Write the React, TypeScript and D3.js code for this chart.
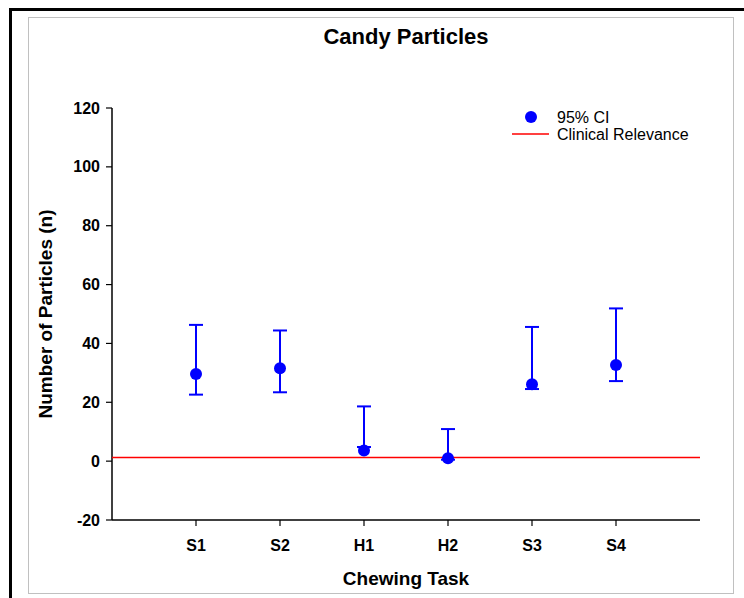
import * as d3 from "d3";

// データ
const TASKS = ["S1", "S2", "H1", "H2", "S3", "S4"];
const MEANS = [29.6, 31.6, 3.6, 1.0, 26.1, 32.7];
const UPPER = [46.3, 44.4, 18.6, 10.9, 45.6, 51.9];
const LOWER = [22.6, 23.4, 4.8, 0.5, 24.5, 27.2];
const Y_TICKS = [-20, 0, 20, 40, 60, 80, 100, 120];
const CLINICAL = 1.2;

const W = 744;
const H = 598;
const FONT = "'Liberation Sans', Arial, sans-serif";
const BLUE = "#0000ff";
const RED = "#ff0000";

export default function App() {
  const x = d3.scaleLinear().domain([0, TASKS.length + 1]).range([112, 700]);
  const y = d3.scaleLinear().domain([-20, 120]).range([520, 108]);
  const capW = 7;

  return (
    <svg
      width={W}
      height={H}
      viewBox={`0 0 ${W} ${H}`}
      style={{ position: "absolute", left: 0, top: 0, background: "#fff" }}
      fontFamily={FONT}
    >
      {/* 外枠 */}
      <rect x={10.5} y={9.5} width={W + 20} height={H + 20} fill="none" stroke="#000" strokeWidth={3} />
      <rect x={28.5} y={17.5} width={705} height={576} fill="none" stroke="#c0c0c0" strokeWidth={1} />

      {/* タイトル */}
      <text x={406} y={44} textAnchor="middle" fontSize={22} fontWeight={700}>
        Candy Particles
      </text>

      {/* Y軸 */}
      <line x1={112} x2={112} y1={y(120)} y2={y(-20)} stroke="#000" strokeWidth={1.5} />
      {Y_TICKS.map((t) => (
        <g key={t}>
          <line x1={106} x2={112} y1={y(t)} y2={y(t)} stroke="#000" strokeWidth={1.2} />
          <text x={100} y={y(t)} dy="0.35em" textAnchor="end" fontSize={16} fontWeight={700}>
            {t}
          </text>
        </g>
      ))}
      <text
        transform={`translate(52,${(y(120) + y(-20)) / 2}) rotate(-90)`}
        textAnchor="middle"
        fontSize={19}
        fontWeight={700}
      >
        Number of Particles (n)
      </text>

      {/* X軸 */}
      <line x1={112} x2={700} y1={y(-20)} y2={y(-20)} stroke="#000" strokeWidth={1.5} />
      {TASKS.map((t, i) => (
        <g key={t}>
          <line x1={x(i + 1)} x2={x(i + 1)} y1={y(-20)} y2={y(-20) + 6} stroke="#000" strokeWidth={1.2} />
          <text x={x(i + 1)} y={551} textAnchor="middle" fontSize={16} fontWeight={700}>
            {t}
          </text>
        </g>
      ))}
      <text x={406} y={585} textAnchor="middle" fontSize={19} fontWeight={700}>
        Chewing Task
      </text>

      {/* 臨床的関連性ライン */}
      <line x1={112} x2={700} y1={y(CLINICAL)} y2={y(CLINICAL)} stroke={RED} strokeWidth={1.5} />

      {/* 95% CI */}
      {TASKS.map((t, i) => {
        const cx = x(i + 1);
        return (
          <g key={t} stroke={BLUE} strokeWidth={2}>
            <line x1={cx} x2={cx} y1={y(UPPER[i])} y2={y(Math.min(LOWER[i], MEANS[i]))} />
            <line x1={cx - capW} x2={cx + capW} y1={y(UPPER[i])} y2={y(UPPER[i])} />
            <line x1={cx - capW} x2={cx + capW} y1={y(LOWER[i])} y2={y(LOWER[i])} />
            <circle cx={cx} cy={y(MEANS[i])} r={6} fill={BLUE} stroke="none" />
          </g>
        );
      })}

      {/* 凡例 */}
      <circle cx={531} cy={117} r={6} fill={BLUE} />
      <text x={557} y={117} dy="0.35em" fontSize={16}>
        95% CI
      </text>
      <line x1={512} x2={549} y1={134} y2={134} stroke={RED} strokeWidth={1.5} />
      <text x={557} y={134} dy="0.35em" fontSize={16}>
        Clinical Relevance
      </text>
    </svg>
  );
}
